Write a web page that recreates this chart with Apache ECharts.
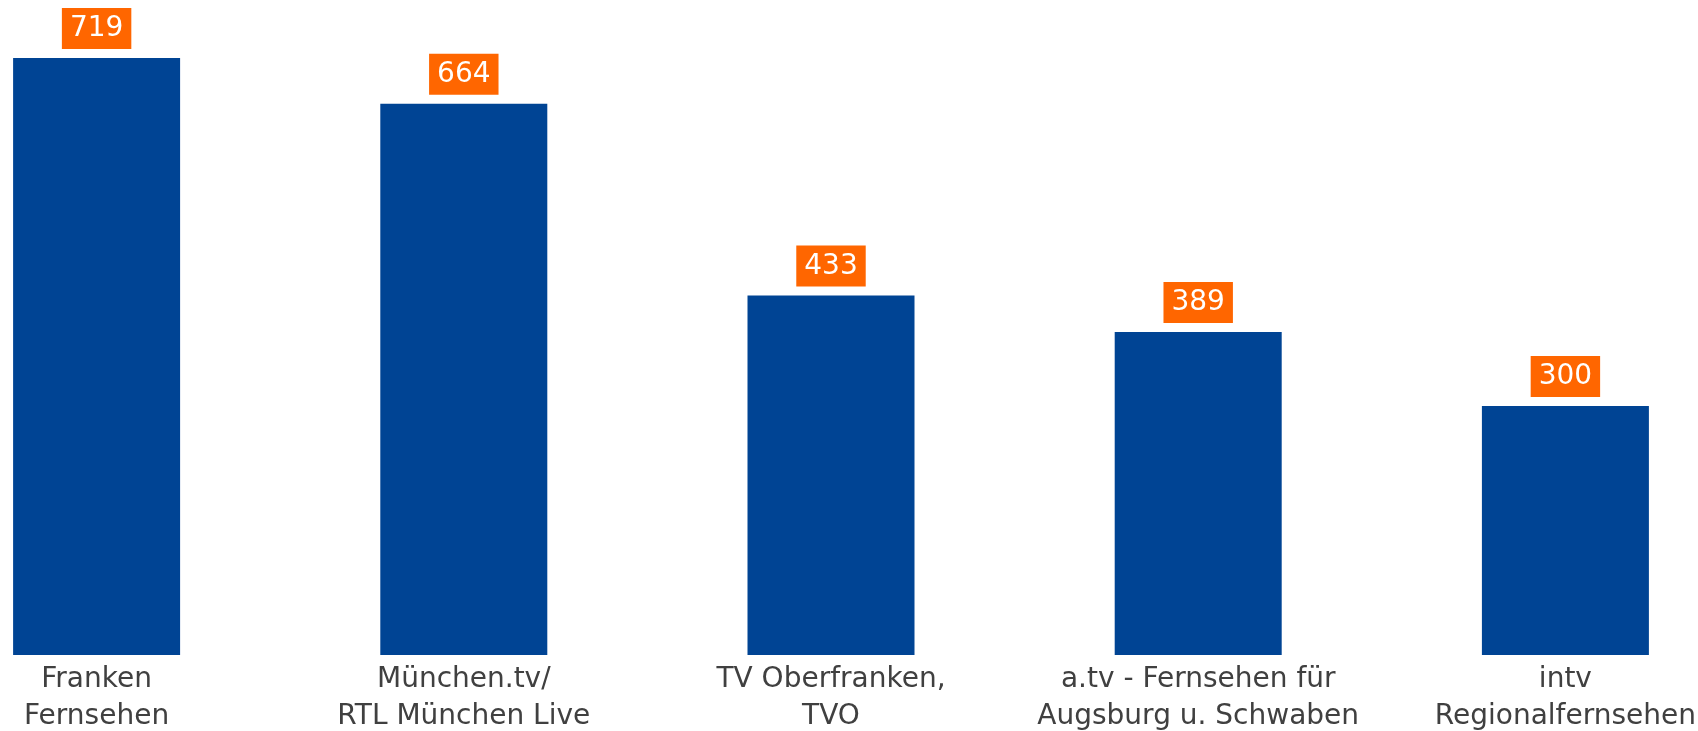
<!DOCTYPE html>
<html>
<head>
<meta charset="utf-8">
<script src="https://cdn.jsdelivr.net/npm/echarts@6/dist/echarts.min.js"></script>
<style>
  html, body { margin: 0; padding: 0; background: #fff; }
  #main { width: 1698px; height: 731px; }
</style>
</head>
<body>
<div id="main"></div>
<script>
var sender = ['Franken\nFernsehen', 'München.tv/\nRTL München Live', 'TV Oberfranken,\nTVO', 'a.tv - Fernsehen für\nAugsburg u. Schwaben', 'intv\nRegionalfernsehen'];
var werte = [719, 664, 433, 389, 300];

var myChart = echarts.init(document.getElementById('main'));

var option = {
    animation: false,
    grid: {
        left: -87,
        width: 1836,
        top: 58,
        bottom: 76,
        containLabel: false,
        outerBoundsMode: 'none'
    },
    xAxis: {
        type: 'category',
        data: sender,
        axisLine: { show: false },
        axisTick: { show: false },
        axisLabel: {
            interval: 0,
            margin: 6,
            color: '#404040',
            fontFamily: 'DejaVu Sans',
            fontSize: 28,
            lineHeight: 37,
            hideOverlap: false
        }
    },
    yAxis: {
        type: 'value',
        min: 0,
        max: 719,
        show: false,
        splitLine: { show: false }
    },
    series: [{
        type: 'bar',
        data: werte,
        barWidth: 167,
        itemStyle: { color: '#004494' },
        label: {
            show: true,
            position: 'top',
            distance: 9,
            color: '#fff',
            backgroundColor: '#FF6600',
            fontFamily: 'DejaVu Sans',
            fontSize: 28,
            lineHeight: 30,
            padding: [6, 8, 5, 8]
        }
    }]
};

myChart.setOption(option);
</script>
</body>
</html>
